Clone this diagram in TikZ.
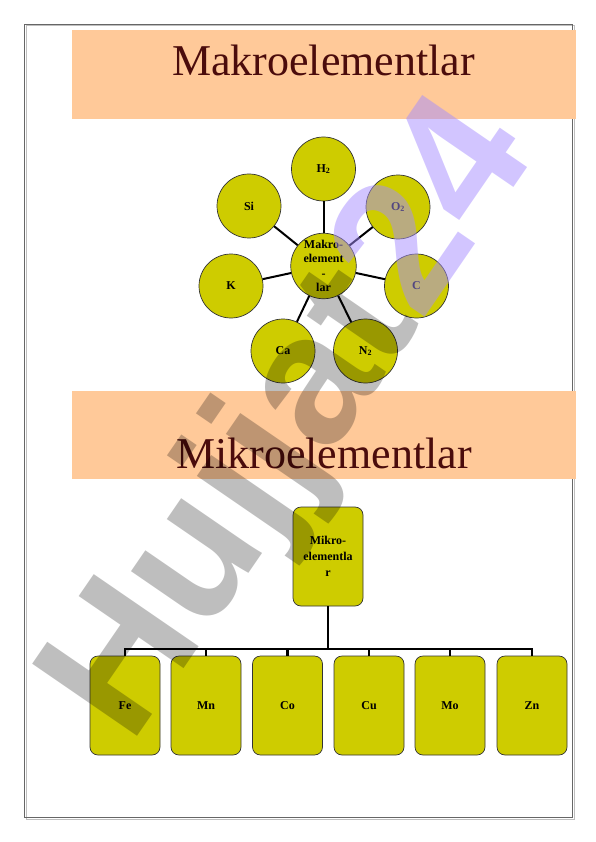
\documentclass[tikz,border=0pt]{standalone}
\usepackage{fontspec}
\setmainfont{Liberation Serif}
\newfontfamily\wmfont{Liberation Sans}
\definecolor{band}{RGB}{255,201,153}
\definecolor{titlec}{RGB}{75,12,12}
\definecolor{olivey}{RGB}{206,204,0}
\definecolor{wmgray}{RGB}{190,190,190}
\definecolor{wmlav}{RGB}{165,140,255}
\tikzset{
  bandbox/.style={fill=band, draw=none},
  titletext/.style={text=titlec, font=\fontsize{44}{50}\selectfont, anchor=base, inner sep=0pt},
  elcircle/.style={circle, fill=olivey, draw=black!80, line width=0.7pt, minimum size=64pt, inner sep=0pt, font=\bfseries\fontsize{12}{14.5}\selectfont, align=center},
  elbox/.style={rectangle, rounded corners=8pt, fill=olivey, draw=black!80, line width=0.7pt, minimum width=70pt, minimum height=99pt, inner sep=0pt, font=\bfseries\fontsize{12}{16}\selectfont, align=center},
  spoke/.style={draw=black, line width=2pt},
  treeline/.style={draw=black, line width=2.2pt},
  wmtext/.style={rotate=55.5, inner sep=0pt, font=\wmfont\bfseries\fontsize{185}{185}\selectfont},
}
\begin{document}
\begin{tikzpicture}[x=1pt,y=-1pt]
\useasboundingbox (0,0) rectangle (596,842);
% page frame
\draw[black!25, line width=1pt] (26,26) rectangle (574,819);
\draw[black!60, line width=0.8pt] (24,24) rectangle (572,817);
% bands
\fill[bandbox] (72,30) rectangle (576,119);
\fill[bandbox] (72,391) rectangle (576,479);
\node[titletext] (t1) at (323.5,76) {Makroelementlar};
\node[titletext] (t2) at (324,468) {Mikroelementlar};
% star
\node[elcircle, minimum size=62pt] (mk) at (323.5,266) {Makro-\\element\\-\\lar};
\node[elcircle] (h) at (323.5,169) {H\textsubscript{2}};
\node[elcircle] (o) at (398,207) {O\textsubscript{2}};
\node[elcircle] (c) at (416.5,286) {C};
\node[elcircle] (n) at (365.5,351) {N\textsubscript{2}};
\node[elcircle] (ca) at (283,351) {Ca};
\node[elcircle] (k) at (231,286) {K};
\node[elcircle] (si) at (249,206) {Si};
\foreach \t in {h,o,c,n,ca,k,si}{\draw[spoke] (mk) -- (\t);}
% tree
\node[elbox] (mi) at (328,556.5) {Mikro-\\elementla\\r};
\node[elbox] (fe) at (125,705.5) {Fe};
\node[elbox] (mn) at (206,705.5) {Mn};
\node[elbox] (co) at (287.5,705.5) {Co};
\node[elbox] (cu) at (369,705.5) {Cu};
\node[elbox] (mo) at (450,705.5) {Mo};
\node[elbox] (zn) at (532,705.5) {Zn};
\coordinate (bar) at (328,649);
\draw[treeline] (mi.south) -- (bar);
\draw[treeline] (fe.north) -- (fe.north |- bar) -- (zn.north |- bar) -- (zn.north);
\foreach \b in {mn,co,cu,mo}{\draw[treeline] (\b.north) -- (\b.north |- bar);}
% watermark
\begin{scope}[blend mode=multiply]
\node[wmtext, anchor=base east, text=wmgray] (wm1) at (421.5,322.4) {Hujjat};
\end{scope}
\node[wmtext, anchor=base west, text=wmlav, text opacity=0.5] (wm2) at (wm1.base east) {24};
\end{tikzpicture}
\end{document}
